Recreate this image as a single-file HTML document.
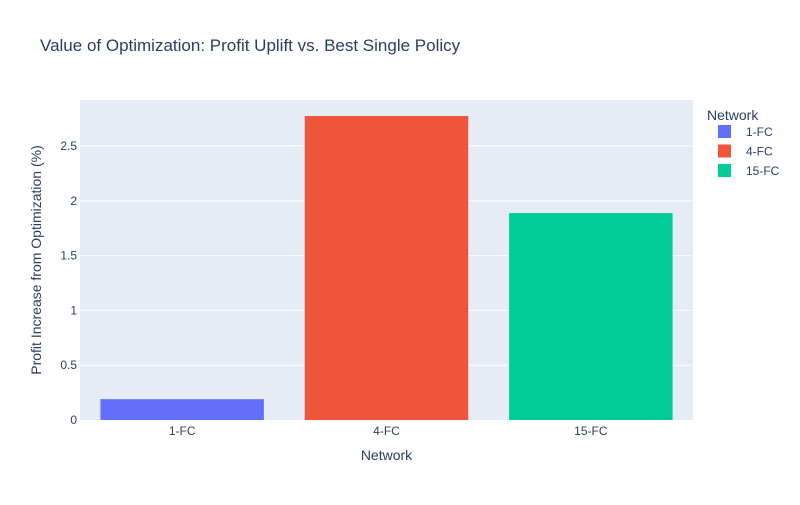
<!DOCTYPE html>
<html><head><meta charset="utf-8"><style>
body{margin:0;background:#fff;font-family:"Liberation Sans",Arial,sans-serif;}
svg text{font-family:"Liberation Sans",Arial,sans-serif;}
</style></head><body>
<svg id="chart" width="800" height="500">
<rect width="800" height="500" fill="#fff"/>
<text x="40" y="51" font-size="17" fill="#2a3f5f">Value of Optimization: Profit Uplift vs. Best Single Policy</text>
<rect x="80" y="100" width="613" height="320" fill="#e5ecf6"/>
<g id="grid"></g><g id="bars"></g><g id="ticks"></g>
<text x="386.5" y="460" font-size="14" fill="#2a3f5f" text-anchor="middle">Network</text>
<text transform="translate(41,260) rotate(-90)" font-size="14" fill="#2a3f5f" text-anchor="middle">Profit Increase from Optimization (%)</text>
<text x="707" y="120" font-size="14" fill="#2a3f5f">Network</text>
<g id="legend"></g>
</svg>
<script>
const categories=["1-FC","4-FC","15-FC"];
const values=[0.19,2.774,1.889];
const colors=["#636efa","#ef553b","#00cc96"];
const yTicks=[0,0.5,1,1.5,2,2.5];
const yTickLabels=["0","0.5","1","1.5","2","2.5"];
const X0=80,W=613,Y0=420,H=320,YMAX=2.92;
const ns="http://www.w3.org/2000/svg";
function y(v){return Y0-v/YMAX*H;}
function bandX(i){return X0+W/categories.length*i;}
const bw=W/categories.length;
function mk(t,a,p){const e=document.createElementNS(ns,t);for(const k in a)e.setAttribute(k,a[k]);p.appendChild(e);return e;}
const grid=document.getElementById('grid'),bars=document.getElementById('bars'),ticks=document.getElementById('ticks'),leg=document.getElementById('legend');
yTicks.forEach((v,i)=>{
 if(v>0){const l=mk('line',{x1:X0,x2:X0+W,y1:y(v),y2:y(v),stroke:'#fff','stroke-width':1},grid);
 
 }
 const t=mk('text',{x:X0-3,y:y(v)+4,'font-size':12,fill:'#2a3f5f','text-anchor':'end'},ticks);
 t.textContent=yTickLabels[i];
 
 
});
categories.forEach((c,i)=>{
 const r=mk('rect',{x:bandX(i)+bw*0.1,y:y(values[i]),width:bw*0.8,height:Y0-y(values[i]),fill:colors[i]},bars);
 
 
 const t=mk('text',{x:bandX(i)+bw/2,y:Y0+15,'font-size':12,fill:'#2a3f5f','text-anchor':'middle'},ticks);
 t.textContent=c;
 
 
 const ly=131+i*19.5;
 const s=mk('rect',{x:718,y:ly-6,width:13,height:13,fill:colors[i]},leg);
 
 
 const lt=mk('text',{x:746,y:ly+5,'font-size':12,fill:'#2a3f5f'},leg);
 lt.textContent=c;
 
 
});
</script>
</body></html>
